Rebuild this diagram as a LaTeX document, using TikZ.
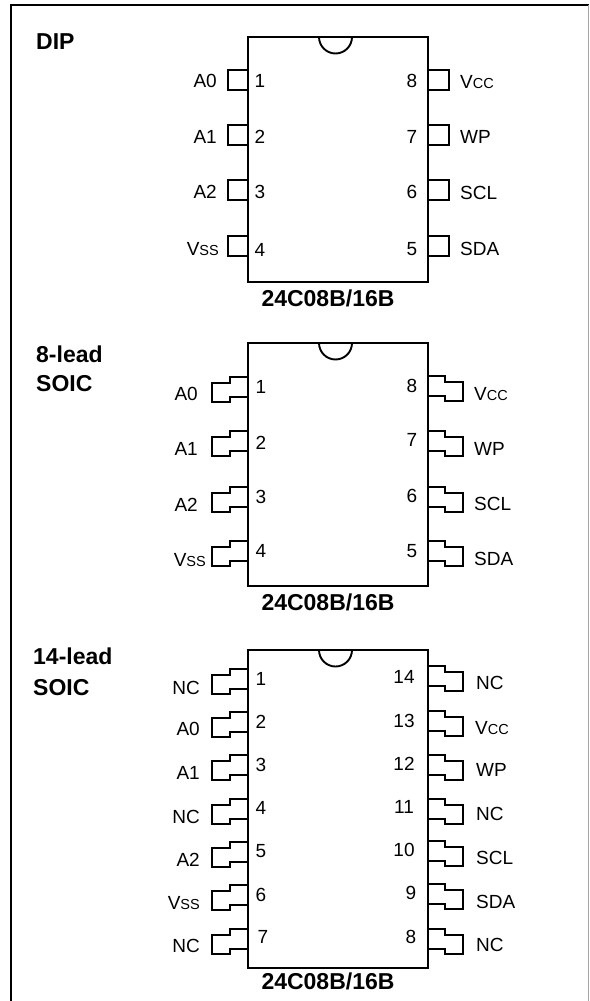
\documentclass[tikz,border=0pt]{standalone}
\usepackage{fontspec}
\setmainfont{Liberation Sans}
\tikzset{
  pinline/.style={draw=black,line width=1.9pt,line join=miter},
  pkg/.style={draw=black,line width=1.9pt},
  lbl/.style={inner sep=0pt,font=\fontsize{19}{22}\selectfont},
  num/.style={inner sep=0pt,font=\fontsize{19}{22}\selectfont},
  title/.style={inner sep=0pt,font=\fontsize{23}{31}\selectfont\bfseries,align=left,anchor=west},
  part/.style={inner sep=0pt,font=\fontsize{23}{27}\selectfont\bfseries}
}
\newcommand{\subcaps}[2]{#1{\fontsize{14.5}{16}\selectfont #2}}
\newcommand{\lpin}[1]{\draw[pinline] (248,#1-10) -- (228,#1-10) -- (228,#1+10) -- (248,#1+10);}
\newcommand{\rpin}[1]{\draw[pinline] (428,#1-10) -- (449,#1-10) -- (449,#1+10) -- (428,#1+10);}
\newcommand{\lgull}[1]{\draw[pinline] (248,#1) -- (230,#1) -- (230,#1+6) -- (212,#1+6) -- (212,#1+25) -- (230,#1+25) -- (230,#1+20) -- (248,#1+20);}
\newcommand{\rgull}[1]{\draw[pinline] (428,#1) -- (445,#1) -- (445,#1+6) -- (463,#1+6) -- (463,#1+25) -- (445,#1+25) -- (445,#1+20) -- (428,#1+20);}
\newcommand{\chip}[3]{% name, top, bottom
  \draw[pkg] (248,#2) -- (428,#2) -- (428,#3) -- (248,#3) -- cycle;
  \draw[pkg] (319,#2) arc[start angle=180,end angle=0,x radius=16.5,y radius=16.5];
}
\begin{document}
\begin{tikzpicture}[x=1pt,y=-1pt]
\useasboundingbox (0,0) rectangle (589,1001);
\fill[white] (0,0) rectangle (589,1001);
\draw[line width=2.4pt] (11,1001) -- (11,5) -- (589,5);
\draw[line width=0.6pt,black!35] (588,5) -- (588,1001);

% DIP
\chip{dip}{37}{282}
\node[title] (dipt) at (36,42) {DIP};
\foreach \y in {80,135,190,246} {\lpin{\y}}
\foreach \y in {80,135,190,246} {\rpin{\y}}
\foreach \n/\t/\y in {a/A0/81,b/A1/137,c/A2/192} \node[lbl,anchor=east] (dl\n) at (217,\y) {\t};
\node[lbl,anchor=east] (dld) at (219,249) {\subcaps{V}{SS}};
\foreach \t/\y in {1/81,2/137,3/192,4/250} \node[num] (dn\t) at (260,\y) {\t};
\foreach \t/\y in {8/81,7/137,6/192,5/249} \node[num] (dn\t) at (412,\y) {\t};
\node[lbl,anchor=west] (drv) at (460,82) {\subcaps{V}{CC}};
\foreach \n/\t/\y in {w/WP/137,s/SCL/193,d/SDA/249} \node[lbl,anchor=west] (dr\n) at (460,\y) {\t};
\node[part] (dp) at (328,298) {24C08B/16B};

% 8-lead SOIC
\chip{so8}{343}{586}
\node[title] (st) at (36,354) {8-lead};
\node[title] (st2) at (36,384) {SOIC};
\foreach \y in {377,431,487,541} {\lgull{\y}}
\foreach \y in {376,431,487,541} {\rgull{\y}}
\foreach \n/\t/\y in {a/A0/394,b/A1/449,c/A2/505} \node[lbl,anchor=east] (sl\n) at (198,\y) {\t};
\node[lbl,anchor=east] (sld) at (206,560) {\subcaps{V}{SS}};
\foreach \t/\y in {1/387,2/443,3/497,4/551} \node[num] (sn\t) at (261,\y) {\t};
\foreach \t/\y in {8/386,7/440,6/496,5/551} \node[num] (sn\t) at (412,\y) {\t};
\node[lbl,anchor=west] (srv) at (474,394) {\subcaps{V}{CC}};
\foreach \n/\t/\y in {w/WP/449,s/SCL/504,d/SDA/559} \node[lbl,anchor=west] (sr\n) at (474,\y) {\t};
\node[part] (sp) at (328,602) {24C08B/16B};

% 14-lead SOIC
\chip{so14}{650}{968}
\node[title] (ft) at (33,656) {14-lead};
\node[title] (ft2) at (33,688) {SOIC};
\foreach \y in {669,712,755,799,842,885,929} {\lgull{\y}}
\foreach \y in {666,711,755,799,841,884,929} {\rgull{\y}}
\foreach \n/\t/\y in {a/NC/688,b/A0/729,c/A1/773,d/NC/817,e/A2/860,g/NC/946} \node[lbl,anchor=east] (fl\n) at (200,\y) {\t};
\node[lbl,anchor=east] (flf) at (200,903) {\subcaps{V}{SS}};
\foreach \t/\y in {1/679,2/722,3/765,4/808,5/851,6/895} \node[num] (fn\t) at (261,\y) {\t};
\node[num] (fn7) at (263,937) {7};
\foreach \t/\y in {14/677,13/721,12/764,11/807,10/850} \node[num] (fn\t) at (404,\y) {\t};
\foreach \t/\y in {9/893,8/937} \node[num] (fn\t) at (411,\y) {\t};
\foreach \n/\t/\y in {a/NC/683,c/WP/770,d/NC/814,e/SCL/858,f/SDA/902,g/NC/945} \node[lbl,anchor=west] (fr\n) at (476,\y) {\t};
\node[lbl,anchor=west] (frb) at (475,728) {\subcaps{V}{CC}};
\node[part] (fp) at (328,981) {24C08B/16B};
\end{tikzpicture}
\end{document}
